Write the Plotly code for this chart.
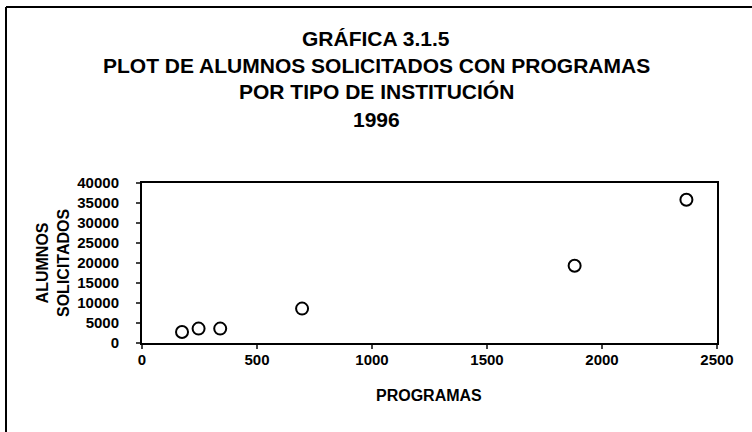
import plotly.graph_objects as go

# datos (programas vs alumnos solicitados, 1996)
programas = [174, 246, 340, 696, 1881, 2367]
alumnos = [2750, 3600, 3600, 8600, 19300, 35800]

x_ticks = [0, 500, 1000, 1500, 2000, 2500]
y_ticks = [0, 5000, 10000, 15000, 20000, 25000, 30000, 35000, 40000]

titulo = ["GRÁFICA 3.1.5",
          "PLOT DE ALUMNOS SOLICITADOS CON PROGRAMAS",
          "POR TIPO DE INSTITUCIÓN",
          "1996"]

FONT = "Liberation Sans, Arial, sans-serif"
L, R, T, B = 142, 35, 183, 89
W, H = 752, 432
pw, ph = W - L - R, H - T - B


def px_to_paper(px, py):
    return (px - L) / pw, (H - B - py) / ph


fig = go.Figure()
fig.add_trace(go.Scatter(
    x=programas, y=alumnos, mode="markers",
    marker=dict(symbol="circle-open", size=12, color="black", line=dict(width=2)),
    showlegend=False,
))

tick_font = dict(family=FONT, size=15, color="black", weight="bold")
fig.update_xaxes(
    range=[0, 2500], tickvals=x_ticks, ticks="outside", ticklen=4, tickwidth=1.5,
    showline=True, linecolor="black", linewidth=2, mirror=True, showgrid=False,
    zeroline=False, tickfont=tick_font, ticklabelstandoff=-2,
)
fig.update_yaxes(
    range=[0, 40000], tickvals=y_ticks, tickformat="d", ticks="outside", ticklen=4,
    tickwidth=1.5, showline=True, linecolor="black", linewidth=2, mirror=True,
    showgrid=False, zeroline=False, tickfont=tick_font, ticklabelstandoff=14,
)

annotations = []
for i, line in enumerate(titulo):
    x, y = px_to_paper(W / 2, 38 + 27 * i)
    annotations.append(dict(x=x, y=y, xref="paper", yref="paper", text=line,
                            showarrow=False, xanchor="center", yanchor="middle",
                            font=dict(family=FONT, size=21, color="black", weight="bold")))
x, y = px_to_paper(429, 395)
annotations.append(dict(x=x, y=y, xref="paper", yref="paper", text="PROGRAMAS",
                        showarrow=False, xanchor="center", yanchor="middle",
                        font=dict(family=FONT, size=16, color="black", weight="bold")))
x, y = px_to_paper(53, 263)
annotations.append(dict(x=x, y=y, xref="paper", yref="paper", text="ALUMNOS<br>SOLICITADOS",
                        showarrow=False, xanchor="center", yanchor="middle", textangle=-90,
                        font=dict(family=FONT, size=16, color="black", weight="bold")))

# marco de la hoja escaneada (lado izquierdo y superior)
fx, fy = px_to_paper(6, 7)
_, fb = px_to_paper(6, H + 5)
fr, _ = px_to_paper(W + 5, 7)
shapes = [
    dict(type="line", xref="paper", yref="paper", x0=fx, x1=fx, y0=fb, y1=fy,
         line=dict(color="black", width=2)),
    dict(type="line", xref="paper", yref="paper", x0=fx, x1=fr, y0=fy, y1=fy,
         line=dict(color="black", width=2)),
]

fig.update_layout(
    width=W, height=H,
    margin=dict(l=L, r=R, t=T, b=B),
    plot_bgcolor="white", paper_bgcolor="white",
    annotations=annotations, shapes=shapes,
)

fig.write_html("out.html", config={"displayModeBar": False},
               post_script="document.body.style.margin='0';")
